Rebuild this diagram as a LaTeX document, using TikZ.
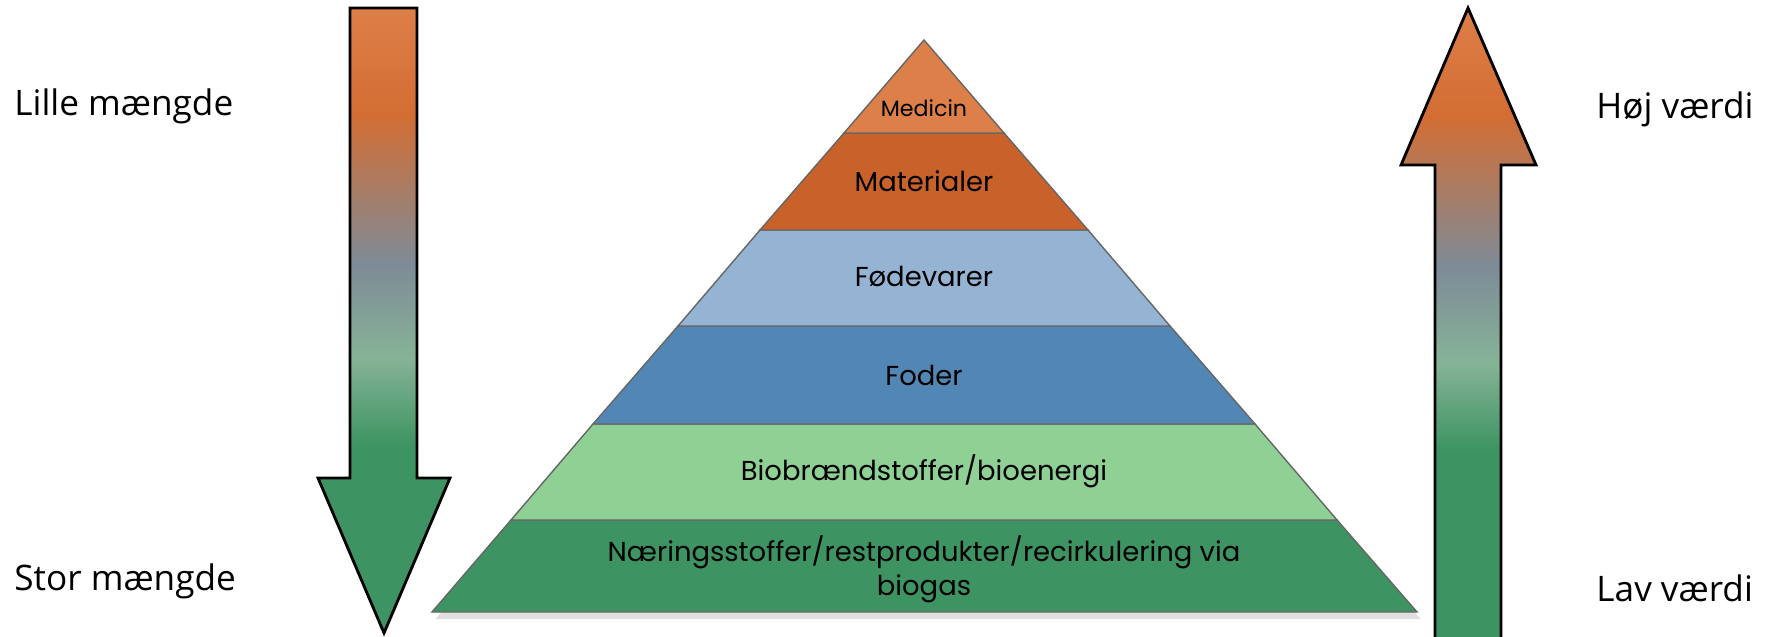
\documentclass[tikz,border=0pt]{standalone}
\usepackage{fontspec}
\setmainfont{Open Sans}
\newfontfamily\pyrfont{Poppins}
\usetikzlibrary{shadows}

\definecolor{lorange}{HTML}{DD7F48}
\definecolor{dorange}{HTML}{C8622A}
\definecolor{morange}{HTML}{D36D33}
\definecolor{slate}{HTML}{7E8B97}
\definecolor{mint}{HTML}{86B397}
\definecolor{pgreen}{HTML}{3D9462}
\definecolor{lblue}{HTML}{95B3D3}
\definecolor{mblue}{HTML}{5287B5}
\definecolor{lgreen}{HTML}{8FD095}

\pgfdeclareverticalshading{valuebar}{100bp}{color(0bp)=(pgreen); color(25bp)=(pgreen); color(40bp)=(pgreen); color(47bp)=(mint); color(54.5bp)=(slate); color(66.5bp)=(morange); color(75bp)=(lorange); color(100bp)=(lorange)}

\begin{document}
\begin{tikzpicture}[x=0.01cm, y=-0.01cm,
  layer/.style={draw=black!60, line width=0.4pt},
  pyrtext/.style={font=\pyrfont\fontsize{7.8}{9.6}\selectfont, align=center},
  sidetext/.style={font=\fontsize{10}{12}\selectfont, anchor=west}]
\useasboundingbox (0,0) rectangle (1783,636);

\fill[layer, fill=pgreen, drop shadow={opacity=0.25, shadow xshift=1pt, shadow yshift=-2pt}] (511,520) -- (1337,520) -- (1417,612) -- (432,612) -- cycle;
\fill[layer, fill=lgreen] (593,424) -- (1255,424) -- (1337,520) -- (511,520) -- cycle;
\fill[layer, fill=mblue] (678,326) -- (1170,326) -- (1255,424) -- (593,424) -- cycle;
\fill[layer, fill=lblue] (760,230) -- (1088,230) -- (1170,326) -- (678,326) -- cycle;
\fill[layer, fill=dorange] (844,133) -- (1004,133) -- (1088,230) -- (760,230) -- cycle;
\fill[layer, fill=lorange] (924,40) -- (1004,133) -- (844,133) -- cycle;

\node[pyrtext, font=\pyrfont\fontsize{6.3}{8}\selectfont] at (924,108) (medicin) {Medicin};
\node[pyrtext] at (924,181) (materialer) {Materialer};
\node[pyrtext] at (924,276) (foedevarer) {Fødevarer};
\node[pyrtext] at (924,375) (foder) {Foder};
\node[pyrtext] at (924,471) (bioenergi) {Biobrændstoffer/bioenergi};
\node[pyrtext] at (924,569) (naering) {Næringsstoffer/restprodukter/recirkulering via\\biogas};

\shade[shading=valuebar] (350,8) -- (417,8) -- (417,478) -- (450,478) -- (384,633) -- (318,478) -- (350,478) -- cycle;
\draw[line width=0.8pt] (350,8) -- (417,8) -- (417,478) -- (450,478) -- (384,633) -- (318,478) -- (350,478) -- cycle;

\shade[shading=valuebar] (1435,640) -- (1435,165) -- (1401,165) -- (1468,8) -- (1536,165) -- (1501,165) -- (1501,640) -- cycle;
\draw[line width=0.8pt] (1435,640) -- (1435,165) -- (1401,165) -- (1468,8) -- (1536,165) -- (1501,165) -- (1501,640);

\node[sidetext] at (2,106) (lille) {Lille mængde};
\node[sidetext] at (2,581) (stor) {Stor mængde};
\node[sidetext] at (1584,109) (hoej) {Høj værdi};
\node[sidetext] at (1584,588) (lav) {Lav værdi};

\end{tikzpicture}
\end{document}
